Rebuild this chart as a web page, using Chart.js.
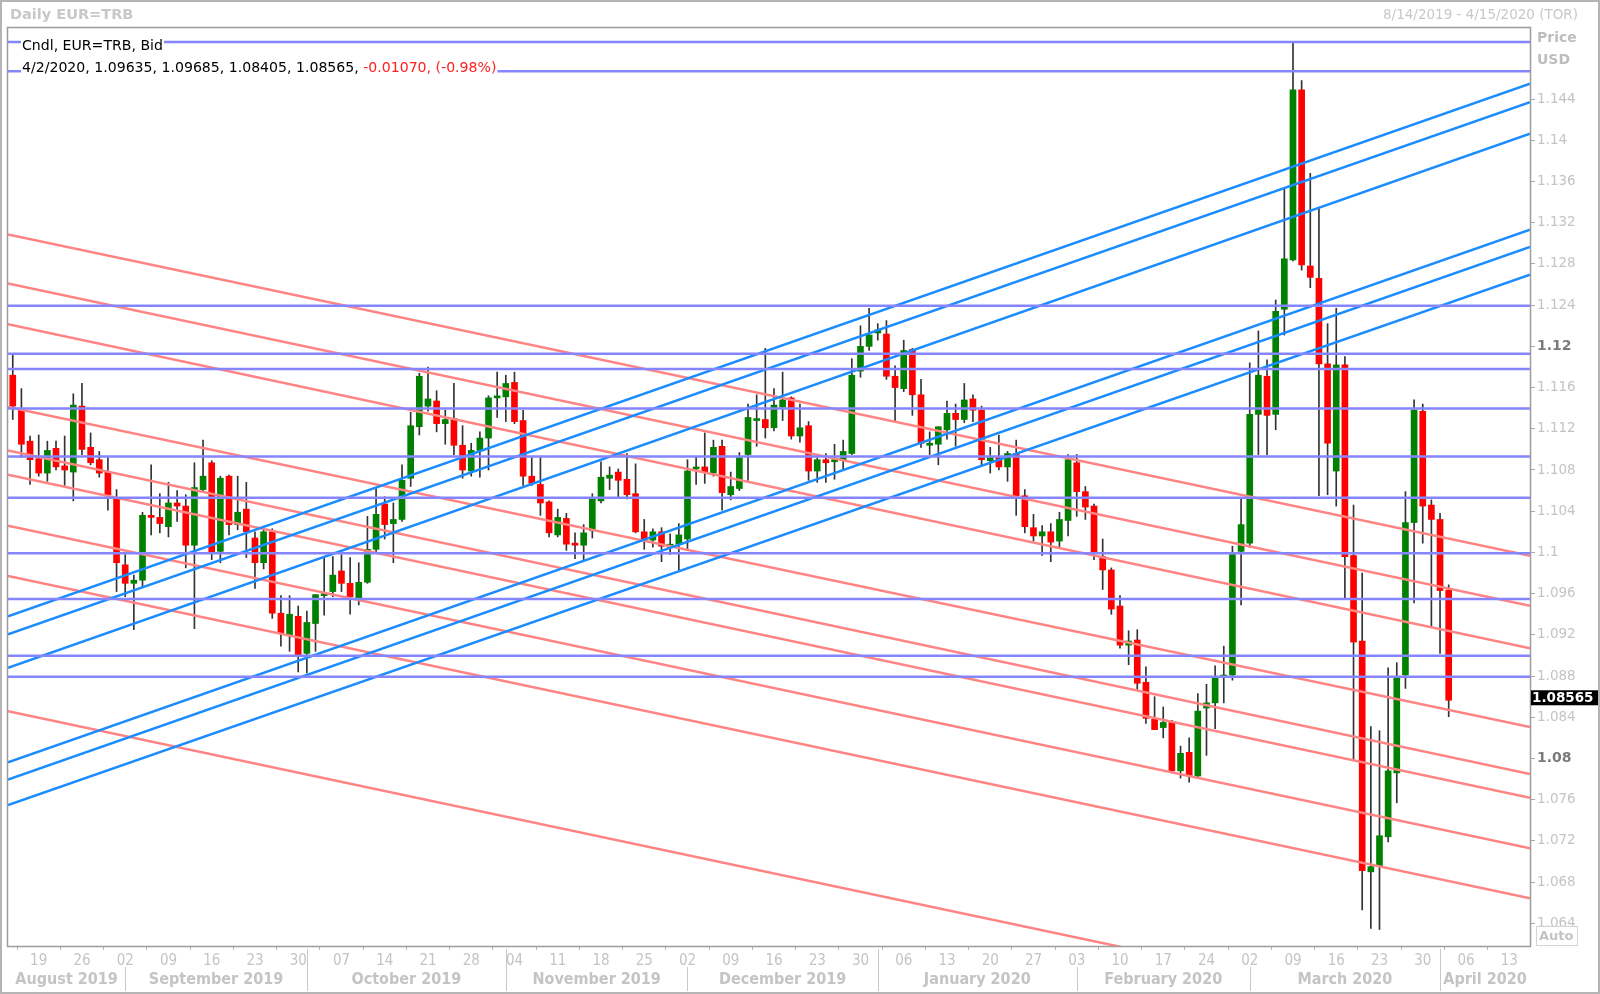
<!DOCTYPE html>
<html>
<head>
<meta charset="utf-8">
<script src="https://cdn.jsdelivr.net/npm/chart.js@4.4.1/dist/chart.umd.min.js"></script>
<style>
  html, body { margin: 0; padding: 0; background: #fff; }
  canvas { display: block; }
</style>
</head>
<body>
<canvas id="chart" width="1600" height="994"></canvas>
<script>
// Daily EUR=TRB candles, 8/14/2019 .. 4/2/2020 (one entry per weekday)
const open = [
  1.1172,1.1138,1.1108,1.1091,1.1077,1.1101,1.1084,1.1078,1.1142,1.1102,
  1.1090,1.1078,1.1052,1.0988,1.0970,1.0973,1.1036,1.1034,1.1025,1.1048,
  1.1045,1.1007,1.1061,1.1087,1.1001,1.1074,1.1027,1.1042,1.1014,1.0990,
  1.1020,1.0941,1.0920,1.0938,1.0902,1.0931,1.0958,1.0962,1.0982,1.0970,
  1.0956,1.0971,1.1003,1.1047,1.1028,1.1032,1.1072,1.1122,1.1142,1.1147,
  1.1125,1.1130,1.1104,1.1079,1.1099,1.1111,1.1150,1.1151,1.1165,1.1128,
  1.1074,1.1066,1.1049,1.1017,1.1033,1.1009,1.1007,1.1021,1.1050,1.1072,
  1.1078,1.1071,1.1057,1.1020,1.1012,1.1020,1.1005,1.1008,1.1013,1.1081,
  1.1083,1.1077,1.1103,1.1056,1.1062,1.1095,1.1128,1.1129,1.1121,1.1141,
  1.1150,1.1113,1.1123,1.1079,1.1090,1.1088,1.1090,1.1096,1.1176,1.1200,
  1.1213,1.1212,1.1171,1.1159,1.1197,1.1153,1.1104,1.1105,1.1119,1.1135,
  1.1129,1.1149,1.1138,1.1089,1.1092,1.1083,1.1096,1.1055,1.1024,1.1016,
  1.1020,1.1011,1.1031,1.1087,1.1059,1.1045,1.0996,1.0983,1.0948,1.0910,
  1.0915,1.0874,1.0838,1.0830,1.0836,1.0788,1.0806,1.0783,1.0849,1.0854,
  1.0879,1.0881,1.1001,1.1009,1.1134,1.1171,1.1134,1.1236,1.1284,1.1449,
  1.1278,1.1266,1.1183,1.1079,1.1182,1.0997,1.0914,1.0690,1.0695,1.0724,
  1.0786,1.0881,1.1029,1.1137,1.1046,1.1032,1.09635
];
const high = [
  1.1192,1.1159,1.1113,1.1114,1.1108,1.1108,1.1113,1.1154,1.1164,1.1116,
  1.1098,1.1092,1.1061,1.0998,1.0978,1.1039,1.1085,1.1057,1.1068,1.1060,
  1.1056,1.1087,1.1109,1.1089,1.1074,1.1075,1.1074,1.1068,1.1020,1.1023,
  1.1023,1.0958,1.0958,1.0948,1.0943,1.0959,1.0996,1.0996,1.0998,1.0995,
  1.0990,1.1035,1.1062,1.1054,1.1048,1.1085,1.1136,1.1174,1.1180,1.1157,
  1.1138,1.1164,1.1123,1.1106,1.1117,1.1152,1.1175,1.1172,1.1175,1.1138,
  1.1092,1.1092,1.1050,1.1042,1.1038,1.1019,1.1027,1.1057,1.1088,1.1083,
  1.1081,1.1096,1.1086,1.1032,1.1023,1.1024,1.1018,1.1028,1.1090,1.1093,
  1.1116,1.1109,1.1109,1.1078,1.1097,1.1144,1.1153,1.1198,1.1159,1.1175,
  1.1151,1.1144,1.1127,1.1092,1.1096,1.1105,1.1109,1.1188,1.1220,1.1237,
  1.1222,1.1225,1.1181,1.1206,1.1198,1.1168,1.1117,1.1122,1.1147,1.1144,
  1.1164,1.1153,1.1142,1.1102,1.1114,1.1098,1.1109,1.1061,1.1037,1.1026,
  1.1028,1.1039,1.1095,1.1095,1.1064,1.1047,1.1013,1.0985,1.0958,1.0924,
  1.0925,1.0889,1.0860,1.0850,1.0837,1.0812,1.0820,1.0863,1.0872,1.0890,
  1.0909,1.1006,1.1053,1.1184,1.1215,1.1187,1.1245,1.1353,1.1495,1.1458,
  1.1368,1.1334,1.1222,1.1237,1.1190,1.1046,1.0980,1.0831,1.0827,1.0888,
  1.0893,1.1059,1.1148,1.1144,1.1051,1.1038,1.09685
];
const low = [
  1.1129,1.1092,1.1066,1.1074,1.1069,1.1080,1.1065,1.1050,1.1095,1.1085,
  1.1073,1.1041,1.0962,1.0957,1.0925,1.0967,1.1017,1.1019,1.1015,1.1030,
  1.0985,1.0926,1.1058,1.0993,1.0990,1.1017,1.1022,1.0995,1.0965,1.0984,
  1.0936,1.0909,1.0904,1.0884,1.0883,1.0904,1.0939,1.0957,1.0962,1.0940,
  1.0949,1.0970,1.1000,1.1013,1.0990,1.1030,1.1064,1.1114,1.1137,1.1117,
  1.1105,1.1095,1.1072,1.1074,1.1073,1.1080,1.1131,1.1127,1.1125,1.1065,
  1.1065,1.1036,1.1015,1.1015,1.1002,1.0994,1.0993,1.1014,1.1048,1.1061,
  1.1054,1.1052,1.1019,1.1003,1.1005,1.0991,1.0998,1.0983,1.1003,1.1066,
  1.1067,1.1074,1.1041,1.1051,1.1060,1.1070,1.1103,1.1111,1.1118,1.1128,
  1.1110,1.1107,1.1070,1.1068,1.1068,1.1071,1.1080,1.1095,1.1170,1.1196,
  1.1206,1.1168,1.1128,1.1156,1.1133,1.1102,1.1095,1.1085,1.1110,1.1103,
  1.1126,1.1127,1.1085,1.1077,1.1080,1.1069,1.1036,1.1019,1.1011,1.0997,
  1.0991,1.1005,1.1016,1.1035,1.1032,1.0993,1.0964,1.0940,1.0907,1.0891,
  1.0867,1.0834,1.0828,1.0820,1.0786,1.0781,1.0777,1.0782,1.0803,1.0829,
  1.0854,1.0876,1.0949,1.1005,1.1095,1.1095,1.1119,1.1211,1.1283,1.1274,
  1.1257,1.1055,1.1056,1.1045,1.0956,1.0799,1.0653,1.0635,1.0634,1.0719,
  1.0757,1.0868,1.0951,1.1009,1.0928,1.0902,1.08405
];
const close = [
  1.1142,1.1105,1.1090,1.1077,1.1099,1.1083,1.1080,1.1143,1.1100,1.1087,
  1.1077,1.1056,1.0990,1.0970,1.0973,1.1036,1.1034,1.1028,1.1048,1.1045,
  1.1007,1.1063,1.1074,1.1000,1.1072,1.1027,1.1039,1.1020,1.0990,1.1020,
  1.0941,1.0922,1.0940,1.0899,1.0932,1.0959,1.0960,1.0978,1.0970,1.0957,
  1.0971,1.1003,1.1037,1.1027,1.1032,1.1070,1.1123,1.1171,1.1149,1.1125,
  1.1129,1.1104,1.1080,1.1099,1.1111,1.1150,1.1151,1.1164,1.1127,1.1074,
  1.1067,1.1048,1.1019,1.1034,1.1008,1.1007,1.1019,1.1053,1.1073,1.1075,
  1.1070,1.1056,1.1020,1.1013,1.1020,1.1006,1.1008,1.1017,1.1079,1.1082,
  1.1078,1.1102,1.1058,1.1064,1.1092,1.1131,1.1129,1.1121,1.1143,1.1148,
  1.1113,1.1121,1.1079,1.1090,1.1087,1.1090,1.1098,1.1172,1.1200,1.1211,
  1.1216,1.1171,1.1160,1.1196,1.1153,1.1106,1.1106,1.1122,1.1135,1.1129,
  1.1148,1.1138,1.1090,1.1092,1.1083,1.1096,1.1055,1.1025,1.1016,1.1020,
  1.1010,1.1032,1.1090,1.1059,1.1044,1.0999,1.0983,1.0945,1.0910,1.0914,
  1.0873,1.0839,1.0828,1.0835,1.0788,1.0805,1.0783,1.0846,1.0854,1.0879,
  1.0881,1.0998,1.1027,1.1134,1.1172,1.1133,1.1234,1.1285,1.1449,1.1279,
  1.1267,1.1183,1.1106,1.1182,1.0996,1.0913,1.0691,1.0695,1.0725,1.0788,
  1.0878,1.1029,1.1138,1.1045,1.1032,1.0963,1.08565
];

// drawn studies: horizontal levels and two sets of trend lines (price at left / right edge)
const levels = [1.14955, 1.1467, 1.12394, 1.11928, 1.1178, 1.11397, 1.10931, 1.1053, 1.09993, 1.09549, 1.08998, 1.08794];
const upStart = [1.09379, 1.09204, 1.08881, 1.07963, 1.07795, 1.07548];
const upEnd = [1.1455, 1.14369, 1.14065, 1.13132, 1.12964, 1.12695];
const downStart = [1.13087, 1.12611, 1.12215, 1.11411, 1.10989, 1.10753, 1.10258, 1.09772, 1.08459];
const downEnd = [1.09967, 1.09481, 1.0907, 1.08306, 1.0785, 1.07619, 1.07128, 1.06642, 1.0533];

// axis
const priceTicks = [1.064,1.068,1.072,1.076,1.08,1.084,1.088,1.092,1.096,1.1,1.104,1.108,1.112,1.116,1.12,1.124,1.128,1.132,1.136,1.14,1.144];
const boldTicks = [1.08, 1.12];
const dayLabels = ["19","26","02","09","16","23","30","07","14","21","28","04","11","18","25","02","09","16","23","30",
                   "06","13","20","27","03","10","17","24","02","09","16","23","30","06","13"];
const firstMonday = 3;            // index of Aug 19 2019
const monthNames = ["August 2019","September 2019","October 2019","November 2019","December 2019","January 2020","February 2020","March 2020","April 2020"];
const monthStart = [13, 34, 57, 78, 100, 123, 143, 165];   // first weekday of each new month
const xMin = -0.55, xMax = 175.4; // 8/14/2019 .. 4/15/2020
const yMin = 1.0618, yMax = 1.1509;

const GREEN = "#008000", RED = "#ff0000";
const FONT = "'DejaVu Sans', Verdana, sans-serif";
const NARROW = "'DejaVu Sans Condensed', 'Liberation Sans Narrow', 'DejaVu Sans', sans-serif";
const GREYTXT = "#c4c4c4";

const mondays = dayLabels.map((d, k) => firstMonday + 5 * k);
const upColor = open.map((o, i) => (close[i] >= o ? GREEN : RED));

const lineSets = [];
levels.forEach((v) => lineSets.push({ a: v, b: v, color: "#8585ff" }));
upStart.forEach((v, k) => lineSets.push({ a: v, b: upEnd[k], color: "#1a8cff" }));
downStart.forEach((v, k) => lineSets.push({ a: v, b: downEnd[k], color: "#ff8484" }));

const lineDatasets = lineSets.map((l) => ({
  type: "line",
  data: [{ x: xMin, y: l.a }, { x: xMax, y: l.b }],
  borderColor: l.color,
  borderWidth: 2.5,
  pointRadius: 0,
  clip: 0,
  order: 0,
}));

function isBold(c) {
  return !!(c && c.tick && boldTicks.includes(+c.tick.value.toFixed(3)));
}

function textBox(ctx, x, y, parts) {
  let w = 0;
  parts.forEach((p) => (w += ctx.measureText(p[0]).width));
  ctx.fillStyle = "#fff";
  ctx.fillRect(x - 1, y - 8, w + 2, 16);
  let cx = x;
  parts.forEach((p) => {
    ctx.fillStyle = p[1];
    ctx.fillText(p[0], cx, y);
    cx += ctx.measureText(p[0]).width;
  });
}

const decorations = {
  id: "decorations",
  beforeDraw(chart) {
    const ctx = chart.ctx;
    ctx.save();
    ctx.fillStyle = "#fff";
    ctx.fillRect(0, 0, chart.width, chart.height);
    ctx.restore();
  },
  afterDatasetsDraw(chart) {
    const ctx = chart.ctx;
    const a = chart.chartArea;
    ctx.save();
    ctx.font = "14.1px " + FONT;
    ctx.textBaseline = "middle";
    textBox(ctx, 22, 46, [["Cndl, EUR=TRB, Bid", "#000"]]);
    const n = close.length - 1;
    const last = [
      "4/2/2020", open[n].toFixed(5), high[n].toFixed(5), low[n].toFixed(5), close[n].toFixed(5)
    ].join(", ") + ", ";
    const chg = close[n] - open[n];
    const pct = (chg / open[n]) * 100;
    textBox(ctx, 22, 68.5, [[last, "#000"], [chg.toFixed(5) + ", (" + pct.toFixed(2) + "%)", "#ff2020"]]);

    // frame
    ctx.strokeStyle = "#9c9c9c";
    ctx.lineWidth = 1.5;
    ctx.strokeRect(a.left - 0.5, a.top - 0.5, a.right - a.left + 1, a.bottom - a.top + 1);
    ctx.restore();
  },
  afterDraw(chart) {
    const ctx = chart.ctx;
    const a = chart.chartArea;
    const xs = chart.scales.x, ys = chart.scales.y;
    ctx.save();

    // header
    ctx.textBaseline = "middle";
    ctx.fillStyle = "#c8c8c8";
    ctx.font = "bold 14.5px " + FONT;
    ctx.textAlign = "left";
    ctx.fillText("Daily EUR=TRB", 10, 15);
    ctx.font = "13.5px " + FONT;
    ctx.textAlign = "right";
    ctx.fillText("8/14/2019 - 4/15/2020 (TOR)", 1578, 15);

    // axis captions
    ctx.textAlign = "left";
    ctx.font = "bold 14px " + FONT;
    ctx.fillStyle = "#bdbdbd";
    ctx.fillText("Price", 1537, 38);
    ctx.fillText("USD", 1537, 60);
    ctx.strokeStyle = "#d4d4d4";
    ctx.lineWidth = 1;
    ctx.strokeRect(1536.5, 926.5, 41, 19);
    ctx.font = "bold 13px " + FONT;
    ctx.fillStyle = "#c4c4c4";
    ctx.fillText("Auto", 1539, 937);

    // last price marker
    const ly = ys.getPixelForValue(close[close.length - 1]) - 2;
    ctx.fillStyle = "#000";
    ctx.fillRect(a.right + 1, ly - 8, 67, 15);
    ctx.fillStyle = "#fff";
    ctx.font = "bold 13.5px " + FONT;
    ctx.fillText(close[close.length - 1].toFixed(5), a.right + 2, ly);

    // month row
    ctx.strokeStyle = "#c8c8c8";
    ctx.lineWidth = 1;
    monthStart.forEach((m) => {
      const px = Math.round(xs.getPixelForValue(m)) + 0.5;
      const top = mondays.includes(m) ? 967 : 949;
      ctx.beginPath();
      ctx.moveTo(px, top);
      ctx.lineTo(px, 991);
      ctx.stroke();
    });
    const edges = [a.left].concat(monthStart.map((m) => xs.getPixelForValue(m)), [a.right]);
    ctx.font = "bold 16px " + NARROW;
    ctx.fillStyle = "#c4c4c4";
    ctx.textAlign = "center";
    monthNames.forEach((name, k) => {
      ctx.fillText(name, (edges[k] + edges[k + 1]) / 2, 980);
    });

    // outer border
    ctx.strokeStyle = "#b4b4b4";
    ctx.lineWidth = 2;
    ctx.strokeRect(1, 1, chart.width - 2, chart.height - 2);
    ctx.restore();
  },
};

new Chart(document.getElementById("chart"), {
  type: "bar",
  data: {
    datasets: lineDatasets.concat([
      {
        label: "body",
        data: open.map((o, i) => ({ x: i, y: [o, close[i]] })),
        backgroundColor: upColor,
        barThickness: 6,
        minBarLength: 2,
        grouped: false,
        order: 1,
      },
      {
        label: "wick",
        data: open.map((o, i) => ({ x: i, y: [low[i], high[i]] })),
        backgroundColor: "#333",
        barThickness: 1,
        grouped: false,
        order: 2,
      },
    ]),
  },
  options: {
    responsive: false,
    devicePixelRatio: 1,
    animation: false,
    events: [],
    layout: { padding: { left: 8, top: 28, right: 0, bottom: 0 } },
    plugins: { legend: { display: false }, tooltip: { enabled: false } },
    scales: {
      x: {
        type: "linear",
        min: xMin,
        max: xMax,
        offset: false,
        afterBuildTicks: (s) => { s.ticks = mondays.map((v) => ({ value: v })); },
        afterFit: (s) => { s.height = 48; },
        grid: { drawOnChartArea: false, drawTicks: true, tickLength: 4, color: "#b8b8b8" },
        border: { display: false },
        ticks: {
          autoSkip: false,
          maxRotation: 0,
          padding: 2,
          color: GREYTXT,
          font: { family: NARROW, size: 15 },
          callback: (v, i) => dayLabels[i],
        },
      },
      y: {
        type: "linear",
        position: "right",
        min: yMin,
        max: yMax,
        afterBuildTicks: (s) => { s.ticks = priceTicks.map((v) => ({ value: v })); },
        afterFit: (s) => { s.width = 70; },
        grid: { drawOnChartArea: false, drawTicks: true, tickLength: 5, color: "#a8a8a8" },
        border: { display: false },
        ticks: {
          padding: 2,
          color: (c) => (isBold(c) ? "#7a7a7a" : GREYTXT),
          font: (c) => (isBold(c)
            ? { family: FONT, size: 14, weight: "bold" }
            : { family: FONT, size: 13.5 }),
          callback: (v) => String(+(+v).toFixed(3)),
        },
      },
    },
  },
  plugins: [decorations],
});
</script>
</body>
</html>
